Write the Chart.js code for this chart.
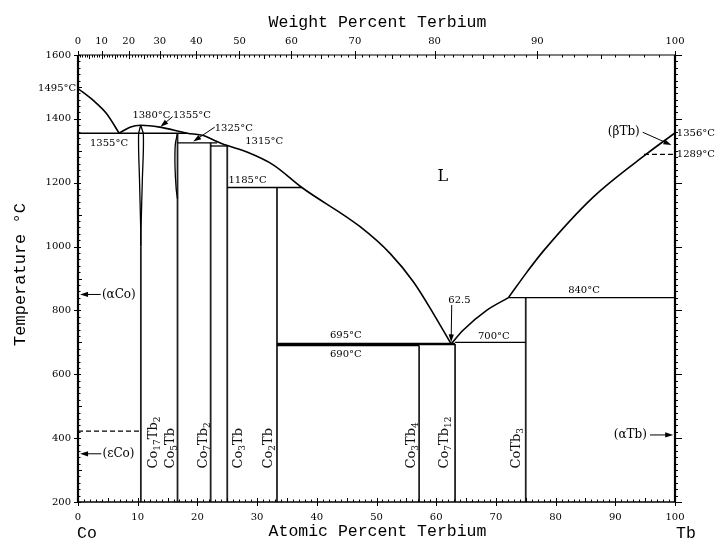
<!DOCTYPE html>
<html>
<head>
<meta charset="utf-8">
<script src="https://cdn.jsdelivr.net/npm/chart.js@4.4.1/dist/chart.umd.min.js"></script>
<style>
html, body { margin: 0; padding: 0; background: #fff; }
</style>
</head>
<body>
<canvas id="c" width="717" height="541"></canvas>
<script>
// Co-Tb phase diagram (atomic % Tb vs temperature)

var M_TB = 158.925, M_CO = 58.933;
var AT_TICKS = [0, 10, 20, 30, 40, 50, 60, 70, 80, 90, 100];
var WT_TICKS = [0, 10, 20, 30, 40, 50, 60, 70, 80, 90, 100];
var T_TICKS = [200, 400, 600, 800, 1000, 1200, 1400, 1600];

// liquidus pieces [at% Tb, °C]
var LIQ_CO = [[0, 1495], [2.6, 1457], [4.8, 1416], [6.9, 1355]];
var LIQ_MID = [[6.9, 1355], [8.7, 1374], [10.5, 1380], [13.7, 1374], [18.3, 1355], [21.0, 1348],
    [22.7, 1334], [24.9, 1317], [28.3, 1296], [32.7, 1256], [37.5, 1185], [47.2, 1063],
    [52.3, 978], [56.2, 889], [59.5, 791], [62.5, 695]];
var LIQ_TB_LOW = [[62.5, 695], [64.5, 738], [68.5, 801], [72.1, 840]];
var LIQ_TB_HIGH = [[72.1, 840], [75.2, 920], [77.9, 985], [86.3, 1155], [95.3, 1291], [100, 1356]];

// narrow homogeneity lenses
var LENS_17_2_L = [[10.5, 1380], [10.15, 1350], [10.3, 1210], [10.5, 1060], [10.53, 1000]];
var LENS_17_2_R = [[10.5, 1380], [10.95, 1350], [10.78, 1210], [10.56, 1060], [10.53, 1000]];
var LENS_5_1_L = [[16.67, 1355], [16.3, 1320], [16.25, 1250], [16.45, 1180], [16.67, 1150]];

// isotherms [°C, from at%, to at%]
var ISO_T = [1355, 1325, 1315, 1185, 690, 700, 840];
var ISO_FROM = [0, 16.67, 22.22, 25.0, 33.33, 63.16, 72.1];
var ISO_TO = [18.3, 23.3, 25.1, 37.5, 57.14, 75.0, 100];
var EUT_T = 695, EUT_FROM = 33.33, EUT_TO = 63.16;

// dashed transformations [°C, from, to]
var DASH_T = [422, 1289];
var DASH_FROM = [0, 94.8];
var DASH_TO = [10.5, 100];

// compounds
var COMPOUNDS = ['Co17Tb2', 'Co5Tb', 'Co7Tb2', 'Co3Tb', 'Co2Tb', 'Co3Tb4', 'Co7Tb12', 'CoTb3'];
var COMP_AT = [10.53, 16.67, 22.22, 25.0, 33.33, 57.14, 63.16, 75.0];
var COMP_TOP = [1000, 1355, 1325, 1315, 1185, 690, 695, 840];
var COMP_LABEL_AT = [13.2, 16.0, 21.6, 27.4, 32.45, 56.45, 62.05, 74.05];

function wtToAt(w) {
    var a = w / M_TB, c = (100 - w) / M_CO;
    return 100 * a / (a + c);
}

function seg(pts, opt) {
    return Object.assign({
        data: pts.map(function(p) { return {x: p[0], y: p[1]}; }),
        showLine: true, borderColor: '#000', borderWidth: 1.5,
        pointRadius: 0, fill: false, tension: 0
    }, opt || {});
}

var datasets = [];
[LIQ_CO, LIQ_MID, LIQ_TB_LOW, LIQ_TB_HIGH].forEach(function(p) {
    datasets.push(seg(p, {cubicInterpolationMode: 'monotone', borderWidth: 1.6}));
});
[LENS_17_2_L, LENS_17_2_R, LENS_5_1_L].forEach(function(p) {
    datasets.push(seg(p, {tension: 0.35, borderWidth: 1.3}));
});
ISO_T.forEach(function(t, i) {
    datasets.push(seg([[ISO_FROM[i], t], [ISO_TO[i], t]], {borderWidth: 1.3}));
});
datasets.push(seg([[EUT_FROM, EUT_T], [EUT_TO, EUT_T]], {borderWidth: 2.6}));
DASH_T.forEach(function(t, i) {
    datasets.push(seg([[DASH_FROM[i], t], [DASH_TO[i], t]], {borderWidth: 1.3, borderDash: [5, 3]}));
});
COMPOUNDS.forEach(function(n, i) {
    datasets.push(seg([[COMP_AT[i], 200], [COMP_AT[i], COMP_TOP[i]]], {borderWidth: 1.8, borderColor: '#222'}));
});

// annotation texts, placed in data units
var NOTES = [
    {t: '1495°C', x: -0.3, y: 1495, a: 'right'},
    {t: '1380°C', x: 12.3, y: 1411, a: 'center'},
    {t: '1355°C', x: 15.9, y: 1411, a: 'left'},
    {t: '1355°C', x: 2.0, y: 1324, a: 'left'},
    {t: '1325°C', x: 22.9, y: 1370, a: 'left'},
    {t: '1315°C', x: 28.0, y: 1329, a: 'left'},
    {t: '1185°C', x: 25.2, y: 1207, a: 'left'},
    {t: '695°C', x: 42.2, y: 723, a: 'left'},
    {t: '690°C', x: 42.2, y: 661, a: 'left'},
    {t: '700°C', x: 67.0, y: 720, a: 'left'},
    {t: '840°C', x: 82.1, y: 864, a: 'left'},
    {t: '62.5', x: 63.9, y: 830, a: 'center'},
    {t: '1356°C', x: 100.3, y: 1354, a: 'left'},
    {t: '1289°C', x: 100.3, y: 1288, a: 'left'},
    {t: '(βTb)', x: 94.1, y: 1360, a: 'right', s: 12},
    {t: '(αCo)', x: 4.0, y: 850, a: 'left', s: 12},
    {t: '(εCo)', x: 4.1, y: 351, a: 'left', s: 12},
    {t: '(αTb)', x: 95.3, y: 410, a: 'right', s: 12},
    {t: 'L', x: 61.1, y: 1217, a: 'center', s: 16}
];
// arrows [x1, T1, x2, T2], head at the second point
var ARROWS = [
    [15.85, 1407, 13.8, 1375],
    [22.9, 1374, 19.3, 1329],
    [94.6, 1358, 99.4, 1318],
    [3.8, 850, 0.35, 850],
    [3.9, 351, 0.35, 351],
    [95.8, 410, 99.7, 410],
    [62.6, 817, 62.5, 700]
];

var SERIF = "'DejaVu Serif', serif";
var MONO = "'Liberation Mono', monospace";

function arrow(ctx, x1, y1, x2, y2) {
    var ang = Math.atan2(y2 - y1, x2 - x1), L = 8, W = 2.6;
    ctx.beginPath();
    ctx.moveTo(x1, y1);
    ctx.lineTo(x2 - Math.cos(ang) * L * 0.8, y2 - Math.sin(ang) * L * 0.8);
    ctx.stroke();
    ctx.beginPath();
    ctx.moveTo(x2, y2);
    ctx.lineTo(x2 - Math.cos(ang) * L - Math.sin(ang) * W, y2 - Math.sin(ang) * L + Math.cos(ang) * W);
    ctx.lineTo(x2 - Math.cos(ang) * L + Math.sin(ang) * W, y2 - Math.sin(ang) * L - Math.cos(ang) * W);
    ctx.closePath();
    ctx.fill();
}

function formula(ctx, name, x, y) {
    // rotated compound label, digits as subscripts
    var parts = name.match(/[A-Za-z]+|\d+/g);
    ctx.save();
    ctx.translate(x, y);
    ctx.rotate(-Math.PI / 2);
    ctx.textAlign = 'left';
    ctx.textBaseline = 'alphabetic';
    var cx = 0;
    parts.forEach(function(p) {
        var sub = /\d/.test(p);
        ctx.font = (sub ? '9px ' : '13px ') + SERIF;
        ctx.fillText(p, cx, sub ? 3 : 0);
        cx += ctx.measureText(p).width;
    });
    ctx.restore();
}

var diagram = {
    id: 'diagram',
    afterDatasetsDraw: function(chart) {
        var ctx = chart.ctx, xs = chart.scales.x, ys = chart.scales.y, ca = chart.chartArea;
        var px = function(v) { return xs.getPixelForValue(v); };
        var py = function(v) { return ys.getPixelForValue(v); };
        ctx.save();
        ctx.strokeStyle = '#000';
        ctx.fillStyle = '#000';

        // frame
        ctx.lineWidth = 1.2;
        ctx.beginPath();
        ctx.moveTo(ca.left, ca.top); ctx.lineTo(ca.right, ca.top);
        ctx.stroke();
        ctx.lineWidth = 1.6;
        ctx.beginPath();
        ctx.moveTo(ca.left, ca.bottom); ctx.lineTo(ca.right, ca.bottom);
        ctx.stroke();
        ctx.lineWidth = 2.2;
        ctx.beginPath();
        ctx.moveTo(ca.left, ca.top); ctx.lineTo(ca.left, ca.bottom);
        ctx.moveTo(ca.right, py(200)); ctx.lineTo(ca.right, py(1600));
        ctx.stroke();

        // tick marks
        ctx.lineWidth = 1;
        ctx.beginPath();
        var i, x, y, len;
        for (i = 0; i <= 100; i++) {
            x = Math.round(px(i)) + 0.5;
            if (i % 10 === 0) { ctx.moveTo(x, ca.bottom + 4); ctx.lineTo(x, ca.bottom - 4); }
            else { len = i % 5 === 0 ? 4 : 2.5; ctx.moveTo(x, ca.bottom); ctx.lineTo(x, ca.bottom - len); }
            x = Math.round(px(wtToAt(i))) + 0.5;
            if (i % 10 === 0) { ctx.moveTo(x, ca.top - 4); ctx.lineTo(x, ca.top + 4); }
            else { len = i % 5 === 0 ? 4 : 2.5; ctx.moveTo(x, ca.top); ctx.lineTo(x, ca.top + len); }
        }
        for (i = 200; i <= 1600; i += 20) {
            y = Math.round(py(i)) + 0.5;
            if (i % 200 === 0) { ctx.moveTo(ca.left - 4, y); ctx.lineTo(ca.left + 3, y); }
            else { len = i % 100 === 0 ? 4 : 2.5; ctx.moveTo(ca.left, y); ctx.lineTo(ca.left + len, y); }
            len = i % 200 === 0 ? 7 : 3;
            ctx.moveTo(ca.right, y); ctx.lineTo(ca.right + len, y);
        }
        ctx.stroke();

        // annotations
        ctx.textBaseline = 'middle';
        NOTES.forEach(function(n) {
            ctx.font = (n.s || 10) + 'px ' + SERIF;
            ctx.textAlign = n.a;
            ctx.fillText(n.t, px(n.x), py(n.y));
        });
        ctx.lineWidth = 1;
        ARROWS.forEach(function(a) {
            arrow(ctx, px(a[0]), py(a[1]), px(a[2]), py(a[3]));
        });

        // compound names
        ctx.fillStyle = '#111';
        COMPOUNDS.forEach(function(n, i) {
            formula(ctx, n, px(COMP_LABEL_AT[i]), py(305));
        });

        // axis titles and element names
        ctx.fillStyle = '#000';
        ctx.font = '16.5px ' + MONO;
        ctx.textAlign = 'center';
        ctx.textBaseline = 'middle';
        ctx.fillText('Weight Percent Terbium', (ca.left + ca.right) / 2 + 1, 23);
        ctx.fillText('Atomic Percent Terbium', (ca.left + ca.right) / 2 + 1, 532);
        ctx.textAlign = 'left';
        ctx.fillText('Co', ca.left - 1, 534);
        ctx.fillText('Tb', ca.right + 1, 534);
        ctx.save();
        ctx.translate(20, (ca.top + ca.bottom) / 2 - 4);
        ctx.rotate(-Math.PI / 2);
        ctx.textAlign = 'center';
        ctx.font = '17px ' + MONO;
        ctx.fillText('Temperature °C', 0, 0);
        ctx.restore();

        ctx.restore();
    }
};

var tickFont = {family: 'DejaVu Serif', size: 10};
function plain(v) { return String(v); }

new Chart(document.getElementById('c'), {
    type: 'scatter',
    data: {datasets: datasets},
    options: {
        responsive: false,
        animation: false,
        devicePixelRatio: 1,
        layout: {padding: {left: 0, right: 42, top: 0, bottom: 0}},
        plugins: {legend: {display: false}, tooltip: {enabled: false}},
        scales: {
            x: {
                type: 'linear', position: 'bottom', min: 0, max: 100,
                afterBuildTicks: function(s) { s.ticks = AT_TICKS.map(function(v) { return {value: v}; }); },
                ticks: {autoSkip: false, maxRotation: 0, padding: 9, color: '#000', font: tickFont, callback: plain},
                grid: {display: false, drawTicks: false},
                border: {display: false},
                afterFit: function(s) { s.height = 39; }
            },
            xw: {
                type: 'linear', position: 'top', min: 0, max: 100,
                afterBuildTicks: function(s) { s.ticks = WT_TICKS.map(function(w) { return {value: wtToAt(w)}; }); },
                ticks: {
                    autoSkip: false, maxRotation: 0, padding: 8, color: '#000', font: tickFont,
                    callback: function(v, i) { return String(WT_TICKS[i]); }
                },
                grid: {display: false, drawTicks: false},
                border: {display: false},
                afterFit: function(s) { s.height = 55; }
            },
            y: {
                type: 'linear', position: 'left', min: 200, max: 1600,
                afterBuildTicks: function(s) { s.ticks = T_TICKS.map(function(v) { return {value: v}; }); },
                ticks: {autoSkip: false, padding: 7, color: '#000', font: tickFont, callback: plain},
                grid: {display: false, drawTicks: false},
                border: {display: false},
                afterFit: function(s) { s.width = 78; }
            }
        }
    },
    plugins: [diagram]
});
</script>
</body>
</html>
